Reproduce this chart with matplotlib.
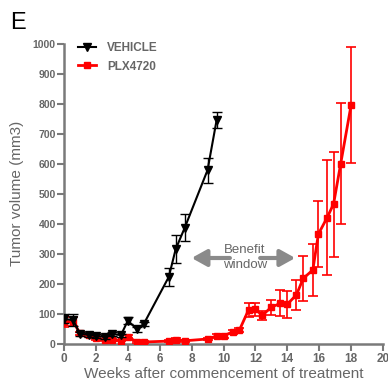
import matplotlib
matplotlib.use("Agg")
import matplotlib.pyplot as plt
from matplotlib.lines import Line2D

plt.rcParams['font.family'] = ['Liberation Sans', 'DejaVu Sans']

# Data (weeks, tumor volume mm3, error)
veh_x = [0, 0.57, 1.0, 1.57, 2.0, 2.57, 3.0, 3.57, 4.0, 4.57, 5.0, 6.57, 7.0, 7.57, 9.0, 9.57]
veh_y = [82, 78, 32, 29, 25, 22, 32, 28, 76, 48, 65, 222, 314, 386, 578, 745]
veh_err = [15, 20, 8, 6, 6, 8, 6, 5, 12, 8, 8, 30, 47, 45, 42, 28]

plx_x = [0, 0.57, 1, 1.57, 2, 2.57, 3, 3.57, 4, 4.57, 5, 6.57, 7, 7.57, 9, 9.57, 10,
         10.57, 11, 11.57, 12, 12.43, 13, 13.57, 14, 14.57, 15, 15.6, 15.95, 16.5,
         16.9, 17.35, 18]
plx_y = [73, 73, 34, 28, 17, 12, 12, 10, 23, 5, 5, 8, 13, 9, 15, 25, 25, 39, 45, 112,
         114, 94, 121, 134, 131, 162, 217, 245, 365, 420, 465, 600, 795]
plx_err = [18, 15, 6, 5, 4, 4, 4, 3, 5, 3, 3, 3, 4, 3, 4, 6, 6, 6, 8, 22, 22, 15, 25,
           43, 45, 50, 75, 86, 110, 192, 175, 202, 192]

series_labels = ['VEHICLE', 'PLX4720']
x_ticks = list(range(0, 21, 2))
y_ticks = list(range(0, 1001, 100))

GRAY = '#7a7a7a'
TXT = '#666666'

fig = plt.figure(figsize=(3.88, 3.80), dpi=100)
ax = fig.add_axes([64/388, 1-343.5/380, (383-64)/388, 300/380])

ax.errorbar(plx_x, plx_y, yerr=plx_err, color='#ff0000', ecolor='#ff0000',
            marker='s', markersize=5, lw=2, elinewidth=1.2, capsize=3.5, capthick=1.2,
            zorder=3)
ax.errorbar(veh_x, veh_y, yerr=veh_err, color='black', ecolor='black',
            marker='v', markersize=6, lw=1.5, elinewidth=1, capsize=3.5, capthick=1,
            zorder=4)

ax.set_xlim(0, 20)
ax.set_ylim(0, 1000)
ax.set_xticks(x_ticks)
ax.set_yticks(y_ticks)
for s in ['top', 'right']:
    ax.spines[s].set_visible(False)
for s in ['left', 'bottom']:
    ax.spines[s].set_color(GRAY)
    ax.spines[s].set_linewidth(1.8)
ax.tick_params(axis='both', colors=GRAY, width=1.5, length=5)
ax.tick_params(axis='y', labelsize=7.5, labelcolor=TXT, pad=1)
ax.tick_params(axis='x', labelsize=8.5, labelcolor=TXT, pad=2)
for lab in ax.get_yticklabels() + ax.get_xticklabels():
    lab.set_fontweight('bold')

ax.set_xlabel('Weeks after commencement of treatment', fontsize=11, color=TXT, labelpad=1)
ax.set_ylabel('Tumor volume (mm3)', fontsize=11, color=TXT, labelpad=6)

handles = [
    Line2D([0], [0], color='black', marker='v', markersize=6, lw=1.5),
    Line2D([0], [0], color='#ff0000', marker='s', markersize=5, lw=2),
]
leg = ax.legend(handles, series_labels, loc='upper left', bbox_to_anchor=(0.01, 1.04),
                frameon=False, handlelength=1.5, handletextpad=1.0, labelspacing=0.55,
                prop={'weight': 'bold', 'size': 8.5})
for t in leg.get_texts():
    t.set_color(TXT)

# Benefit window annotation
ax.annotate('', xy=(8.0, 285), xytext=(10.4, 285),
            arrowprops=dict(arrowstyle='-|>,head_length=0.9,head_width=0.5',
                            lw=3, color='#8a8a8a', shrinkA=0, shrinkB=0))
ax.annotate('', xy=(14.5, 285), xytext=(12.3, 285),
            arrowprops=dict(arrowstyle='-|>,head_length=0.9,head_width=0.5',
                            lw=3, color='#8a8a8a', shrinkA=0, shrinkB=0))
ax.text(11.35, 287, 'Benefit\nwindow', ha='center', va='center', fontsize=9.5,
        color=TXT, linespacing=1.35)

fig.text(10/388, 1-12/380, 'E', fontsize=17, va='top', ha='left', color='black')

fig.savefig('out.png', dpi=100)
